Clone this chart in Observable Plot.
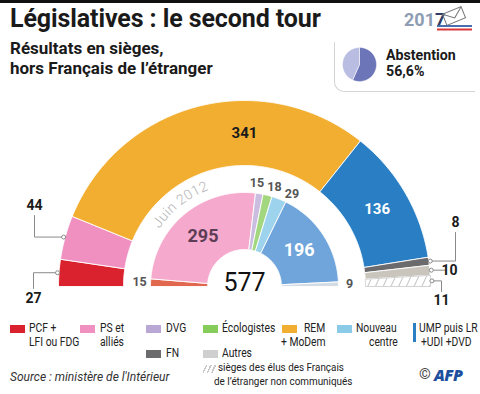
<!DOCTYPE html>
<html><head><meta charset="utf-8">
<script src="https://cdn.jsdelivr.net/npm/d3@7"></script>
<script src="https://cdn.jsdelivr.net/npm/@observablehq/plot@0.6"></script>
<style>
body{margin:0;background:#fff;font-family:Roboto,"Noto Sans",sans-serif;color:#1a1a1a}
#page{position:relative;width:480px;height:394px;overflow:hidden;background:#fff}
.abs{position:absolute;white-space:nowrap}
#bar{left:0;top:0;width:480px;height:3px;background:#111}
#title{left:10px;top:4px;font-weight:700;font-size:25px;line-height:30px;letter-spacing:-0.1px}
#subtitle{left:10px;top:38px;font-weight:700;font-size:17px;line-height:20px}
#absbox{left:334px;top:42px;width:140px;height:49px;border-left:1.5px solid #d4d4d4;border-bottom:1.5px solid #d4d4d4;border-bottom-left-radius:10px}
.abstxt{left:386px;font-weight:700;font-size:14.2px;line-height:16px}
#pie{left:340px;top:45px}
#chart{left:0;top:95px}
.leg{font-family:Roboto,sans-serif;font-size:12px;line-height:13px;color:#222;transform:scaleX(0.86);transform-origin:0 0}
.sw{position:absolute;width:15px;height:8px}
#source{left:10px;top:370px;font-style:italic;font-size:12px;color:#333}
</style></head><body>
<div id="page">
  <div id="bar" class="abs"></div>
  <div id="title" class="abs">Législatives : le second tour</div>
  <div id="subtitle" class="abs">Résultats en sièges,<br>hors Français de l’étranger</div>
  <div id="absbox" class="abs"></div>
  <div id="pie" class="abs"></div>
  <div id="abs1" class="abs abstxt" style="top:47px"></div>
  <div id="abs2" class="abs abstxt" style="top:63px"></div>
  <svg class="abs" style="left:400px;top:6px" width="75" height="28">
    <text x="4" y="20" font-family="Roboto" font-weight="700" font-size="18" fill="#8d9db3">201<tspan fill="#2c3e66">7</tspan></text>
    <g transform="translate(54,10) rotate(-22)" fill="none" stroke="#777" stroke-width="1">
      <rect x="-10" y="-6" width="20" height="12"/>
      <path d="M-10,-6 L0,2 L10,-6"/>
    </g>
    <line x1="37" y1="20" x2="72" y2="20" stroke="#4a6db0" stroke-width="1.8"/>
    <line x1="37" y1="23.5" x2="72" y2="23.5" stroke="#d8383a" stroke-width="1.8"/>
  </svg>
  <div id="chart" class="abs"></div>
  <div id="source" class="abs">Source : ministère de l'Intérieur</div>
  <div class="abs" style="left:419px;top:365px;font-size:15px;color:#444">©</div>
  <div class="abs" style="left:434px;top:364px;font-family:'Open Sans',Roboto,sans-serif;font-style:italic;font-weight:800;font-size:16px;color:#1d4f9e;letter-spacing:-0.5px">AFP</div>
</div>
<script>
// ---------- DATA ----------
const totalSeats = 577;
// 2017 (outer ring), left to right
const parties2017 = ["PCF + LFI", "PS et alliés", "REM + MoDem", "UMP puis LR +UDI +DVD", "FN", "Autres", "Français de l'étranger"];
const seats2017 = [27, 44, 341, 136, 8, 10, 11];
const colors2017 = ["#d9222e", "#ef90c0", "#f1ae30", "#2a7fc4", "#6b6b6e", "#c9c5bd", "url(#hatch)"];
// June 2012 (inner ring), left to right
const parties2012 = ["PCF/FDG", "PS et alliés", "DVG", "Écologistes", "Nouveau centre", "UMP", "Autres"];
const seats2012 = [15, 295, 15, 18, 29, 196, 9];
const colors2012 = ["#e2674f", "#f5a9cc", "#cbbde0", "#a3d77f", "#9dd3ec", "#6fa5da", "#d3dce4"];
// Abstention
const abstentionLabels = ["Abstention", "Votants"];
const abstentionValues = [56.6, 43.4];
const abstentionColors = ["#6c75b7", "#b9bde2"];
// Legend
const legendLabels = ["PCF +<br>LFI ou FDG", "PS et<br>alliés", "DVG", "Écologistes", "REM<br>+ MoDem", "Nouveau<br>centre", "UMP puis LR<br>+UDI +DVD", "FN", "Autres", "sièges des élus des Français<br>de l’étranger non communiqués"];
const legendColors = ["#d9222e", "#ef90c0", "#b9a7d5", "#86cc5a", "#f1ae30", "#8ccbe8", "#2a7fc4", "#6b6b6e", "#cfcfcf", "hatch"];

// ---------- GEOMETRY HELPERS ----------
const R_OUT = [121, 186], R_IN = [37, 94];
function ring(names, values, colors, r0, r1, key) {
  const total = d3.sum(values);
  let cum = 0;
  return values.map((v, i) => {
    const a0 = Math.PI * (1 - cum / total), a1 = Math.PI * (1 - (cum + v) / total);
    cum += v;
    return {key, name: names[i], value: v, color: colors[i], a0, a1, mid: (a0 + a1) / 2, r0, r1};
  });
}
function polygon(s, cx = 0, cy = 0) {
  const n = Math.max(2, Math.ceil(Math.abs(s.a0 - s.a1) / (Math.PI / 360)));
  const pts = [];
  const id = s.key + ":" + s.name;
  for (let k = 0; k <= n; k++) { const a = s.a0 + (s.a1 - s.a0) * k / n; pts.push({id, fill: s.color, x: cx + s.r1 * Math.cos(a), y: cy + s.r1 * Math.sin(a)}); }
  for (let k = n; k >= 0; k--) { const a = s.a0 + (s.a1 - s.a0) * k / n; pts.push({id, fill: s.color, x: cx + s.r0 * Math.cos(a), y: cy + s.r0 * Math.sin(a)}); }
  pts.push({...pts[0]});
  return pts;
}
const polar = (r, a) => ({x: r * Math.cos(a), y: r * Math.sin(a)});

const outer = ring(parties2017, seats2017, colors2017, R_OUT[0], R_OUT[1], "2017");
const inner = ring(parties2012, seats2012, colors2012, R_IN[0], R_IN[1], "2012");
const polys = [...outer, ...inner].flatMap(s => polygon(s));
const hatchPoly = polygon(outer[6]);

// labels inside the rings
const bigOuter = outer.filter(s => s.value > 50).map(s => {
  const a = (s.a0 >= Math.PI / 2 && s.a1 <= Math.PI / 2) ? Math.PI / 2 : s.mid; // label of the segment spanning the top sits at the top
  return {...polar((s.r0 + s.r1) / 2, a), text: String(s.value), color: s.color === "#2a7fc4" ? "white" : "#1a1a1a"};
});
const bigInner = inner.filter(s => s.value > 50).map(s => ({...polar((s.r0 + s.r1) / 2, s.mid), text: String(s.value), color: s.name === "UMP" ? "white" : "#5c3d55"}));
const smallInner = inner.filter(s => s.value <= 50).map(s => ({...polar(105, s.mid), text: String(s.value)}));
// spread the crowded small labels near the top (simple collision avoidance)
{
  const top = smallInner.filter(d => d.y > 50).sort((a, b) => a.x - b.x);
  const gap = 17.5;
  const cx = d3.mean(top, d => d.x) + 3;
  top.forEach((d, i) => { d.x = cx + (i - (top.length - 1) / 2) * gap; d.y = Math.sqrt(Math.max(0, 105 * 105 - d.x * d.x)) - 1; });
}

// leader labels for the thin outer segments (layout)
const leaderLayout = {
  "PCF + LFI": {lx: -211, ly: -2, tx: -211, ty: -12, anchor: "middle"},
  "PS et alliés": {lx: -210, ly: 71, tx: -210, ty: 81, anchor: "middle"},
  "FN": {lx: 211, ly: 54, tx: 211, ty: 64, anchor: "middle"},
  "Autres": {lx: 201, ly: null, tx: 205, ty: null, anchor: "start"},
  "Français de l'étranger": {lx: 197, ly: -5, tx: 197, ty: -14, anchor: "middle", italic: true}
};
const leaderLines = [], leaderDots = [], leaderTexts = [];
outer.filter(s => leaderLayout[s.name]).forEach(s => {
  const L = leaderLayout[s.name];
  const p = polar(R_OUT[1] + 1.5, s.mid);
  leaderDots.push(p);
  leaderLines.push({id: s.name, x: p.x, y: p.y});
  leaderLines.push({id: s.name, x: L.lx, y: p.y});
  if (L.ly !== null) leaderLines.push({id: s.name, x: L.lx, y: L.ly});
  leaderTexts.push({x: L.tx, y: L.ty === null ? p.y : L.ty, text: String(s.value), anchor: L.anchor, style: L.italic ? "italic" : "normal"});
});

// curved "Juin 2012"
const ctx = document.createElement("canvas").getContext("2d");
ctx.font = "300 14px Roboto";
const juin = "Juin 2012";
const juinChars = [];
{
  const r = 103; let a = 146 * Math.PI / 180;
  for (const ch of juin) {
    const w = ctx.measureText(ch).width + 0.4;
    const am = a - (w / 2) / r;
    juinChars.push({...polar(r, am), ch, rot: 90 - am * 180 / Math.PI});
    a -= w / r;
  }
}

// ---------- MAIN CHART ----------
const defs = () => {
  const d = d3.create("svg:defs");
  const p = d.append("pattern").attr("id", "hatch").attr("patternUnits", "userSpaceOnUse").attr("width", 7).attr("height", 7).attr("patternTransform", "rotate(25)");
  p.append("rect").attr("width", 7).attr("height", 7).attr("fill", "white");
  p.append("line").attr("x1", 0).attr("y1", 0).attr("x2", 0).attr("y2", 7).attr("stroke", "#c4c4c4").attr("stroke-width", 2);
  return d.node();
};

const chart = Plot.plot({
  width: 480, height: 215, margin: 0,
  x: {domain: [-244, 236], axis: null},
  y: {domain: [-24, 191], axis: null},
  color: {type: "identity"},
  style: {fontFamily: "Roboto, 'Noto Sans', sans-serif", background: "transparent"},
  marks: [
    defs,
    Plot.line(polys, {x: "x", y: "y", z: "id", fill: "fill", stroke: "white", strokeWidth: 0.9, curve: "linear"}),
    Plot.line(hatchPoly, {x: "x", y: "y", stroke: "#c8c8c8", strokeWidth: 0.8, curve: "linear"}),
    Plot.text(bigOuter, {x: "x", y: "y", text: "text", fill: "color", fontSize: 15, fontWeight: 700}),
    Plot.text(bigInner, {x: "x", y: "y", text: "text", fill: "color", fontSize: 18, fontWeight: 700}),
    Plot.text(smallInner, {x: "x", y: "y", text: "text", fill: "#555", fontSize: 12.5, fontWeight: 700}),
    Plot.text([totalSeats], {x: 0, y: -4, text: d => String(d), lineAnchor: "bottom", fontSize: 25, fill: "#111"}),
    Plot.text(juinChars, {x: "x", y: "y", text: "ch", rotate: "rot", fill: "#b4b4b4", fontSize: 14, fontWeight: 300, lineAnchor: "bottom"}),
    Plot.line(leaderLines, {x: "x", y: "y", z: "id", stroke: "#8a8a8a", strokeWidth: 1}),
    Plot.dot(leaderDots, {x: "x", y: "y", r: 2, stroke: "#8a8a8a", fill: "white", strokeWidth: 1}),
    Plot.text(leaderTexts, {x: "x", y: "y", text: "text", textAnchor: "anchor", fontStyle: "style", fontSize: 14, fontWeight: 700, fill: "#1a1a1a"})
  ]
});
document.getElementById("chart").appendChild(chart);

// ---------- ABSTENTION PIE ----------
{
  const tot = d3.sum(abstentionValues);
  let cum = 0;
  const segs = abstentionValues.map((v, i) => {
    const a0 = Math.PI / 2 - 2 * Math.PI * cum / tot, a1 = Math.PI / 2 - 2 * Math.PI * (cum + v) / tot;
    cum += v;
    return {key: "abs", name: abstentionLabels[i], color: abstentionColors[i], a0, a1, r0: 0, r1: 17};
  });
  const pie = Plot.plot({
    width: 38, height: 38, margin: 0,
    x: {domain: [-19, 19], axis: null}, y: {domain: [-19, 19], axis: null},
    color: {type: "identity"},
    marks: [Plot.line(segs.flatMap(s => polygon(s)), {x: "x", y: "y", z: "id", fill: "fill", stroke: "white", strokeWidth: 0.5})]
  });
  document.getElementById("pie").appendChild(pie);
  document.getElementById("abs1").textContent = abstentionLabels[0];
  document.getElementById("abs2").textContent = `${String(abstentionValues[0]).replace(".", ",")}%`;
}

// ---------- LEGEND ----------
{
  const pos = [
    {sx: 10, sy: 325, tx: 29, ty: 322},
    {sx: 80, sy: 325, tx: 100, ty: 322},
    {sx: 146, sy: 325, tx: 166, ty: 322},
    {sx: 203, sy: 325, tx: 222, ty: 322},
    {sx: 282, sy: 325, tx: 304, ty: 322, indent2: -23},
    {sx: 337, sy: 325, tx: 356, ty: 322, indent2: 13},
    {sx: 413, sy: 323, tx: 419, ty: 322, bar: true, indent2: 2},
    {sx: 146, sy: 350, tx: 166, ty: 347},
    {sx: 203, sy: 350, tx: 222, ty: 347},
    {sx: 203, sy: 365, tx: 218, ty: 361, indent2: -4, small: true}
  ];
  const page = document.getElementById("page");
  legendLabels.forEach((lab, i) => {
    const p = pos[i];
    const sw = document.createElement("div");
    sw.className = "sw";
    sw.style.left = p.sx + "px"; sw.style.top = p.sy + "px";
    if (p.bar) { sw.style.width = "3px"; sw.style.height = "19px"; }
    if (legendColors[i] === "hatch") {
      sw.style.width = "13px";
      sw.style.background = "repeating-linear-gradient(115deg, #fff 0 2.5px, #c8c8c8 2.5px 4px)";
    } else sw.style.background = legendColors[i];
    page.appendChild(sw);
    lab.split("<br>").forEach((t, j) => {
      const tx = document.createElement("div");
      tx.className = "abs leg";
      tx.textContent = t;
      if (p.small) { tx.style.fontSize = "11.5px"; }
      tx.style.left = (p.tx + (j > 0 && p.indent2 ? p.indent2 : 0)) + "px";
      tx.style.top = (p.ty + j * 14) + "px";
      page.appendChild(tx);
    });
  });
}
</script>
</body></html>
